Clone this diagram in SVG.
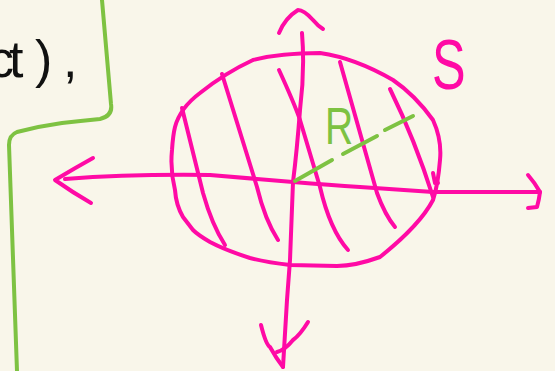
<svg xmlns="http://www.w3.org/2000/svg" width="555" height="371" viewBox="0 0 555 371">
<style>
.p{fill:none;stroke:#ff0aa5;stroke-width:4;stroke-linecap:round;stroke-linejoin:round}
.g{fill:none;stroke:#7ec242;stroke-width:4;stroke-linecap:round;stroke-linejoin:round}
.hand{font-family:"Liberation Sans","DejaVu Sans",sans-serif}
</style>
<rect width="555" height="371" fill="#f9f6ea"/>
<g id="frame">
<path class="g" d="M102,0 L111,104 Q113,116 100,119 Q80,121 62,123 Q40,126 17,132 Q9,135 9,145 L12,230 L17,371"/>
<text class="hand" x="-12 9 35 63" y="77" font-size="52" fill="#111">ct),</text>
</g>
<g id="sphere">
<path class="p" d="M175,127 Q180,108 200,93 Q225,73 253,60 Q280,53 320,53 Q355,58 393,80 Q415,95 433,120 Q442,140 440,160 Q438,185 433,200 Q420,225 380,257 Q355,266 337,266 L290,265 Q265,262 250,258 Q225,250 210,242 Q198,235 193,230 L183,217 Q176,205 175,190 Q170,170 172,150 Q173,135 175,127"/>
<path class="p" d="M182,108 L203,193 Q212,225 225,245"/>
<path class="p" d="M222,74 L257,187 Q265,220 278,240"/>
<path class="p" d="M279,70 Q295,105 300,120 L320,187 Q330,230 348,250"/>
<path class="p" d="M340,62 L377,193 Q385,215 395,227"/>
<path class="p" d="M390,89 Q415,140 433,197"/>
<path class="p" d="M433,173 L435,183 L438,183"/>
</g>
<g id="connectors">
<path class="p" d="M65,179 Q130,174 210,175 L293,182 Q330,185 360,187 L433,192 Q480,192 540,192"/>
<path class="p" d="M93,158 Q75,168 55,180 Q72,192 91,203"/>
<path class="p" d="M528,175 Q535,183 540,192 Q539,200 537,207 L528,208"/>
<path class="p" d="M302,33 Q305,70 300,110 Q297,150 293,182 L290,260 L287,300 L283,367"/>
<path class="p" d="M279,33 Q285,18 298,10 Q304,10 313,20 Q318,26 323,29"/>
<path class="p" d="M261,325 Q266,345 270,347 Q276,358 283,367"/>
<path class="p" d="M308,322 Q300,335 293,340 Q285,350 277,352"/>
</g>
<g id="radius">
<path class="g" d="M295,181 L332,160 M343,154 L377,136 M385,130 L413,116"/>
<text class="hand" x="325" y="144" font-size="52" fill="#7ec242" transform="translate(325 0) scale(0.75 1) translate(-325 0)">R</text>
</g>
<g id="label-s">
<text class="hand" x="432" y="89" font-size="70" fill="#ff0aa5" transform="translate(432 0) scale(0.72 1) translate(-432 0)">S</text>
</g>
</svg>
